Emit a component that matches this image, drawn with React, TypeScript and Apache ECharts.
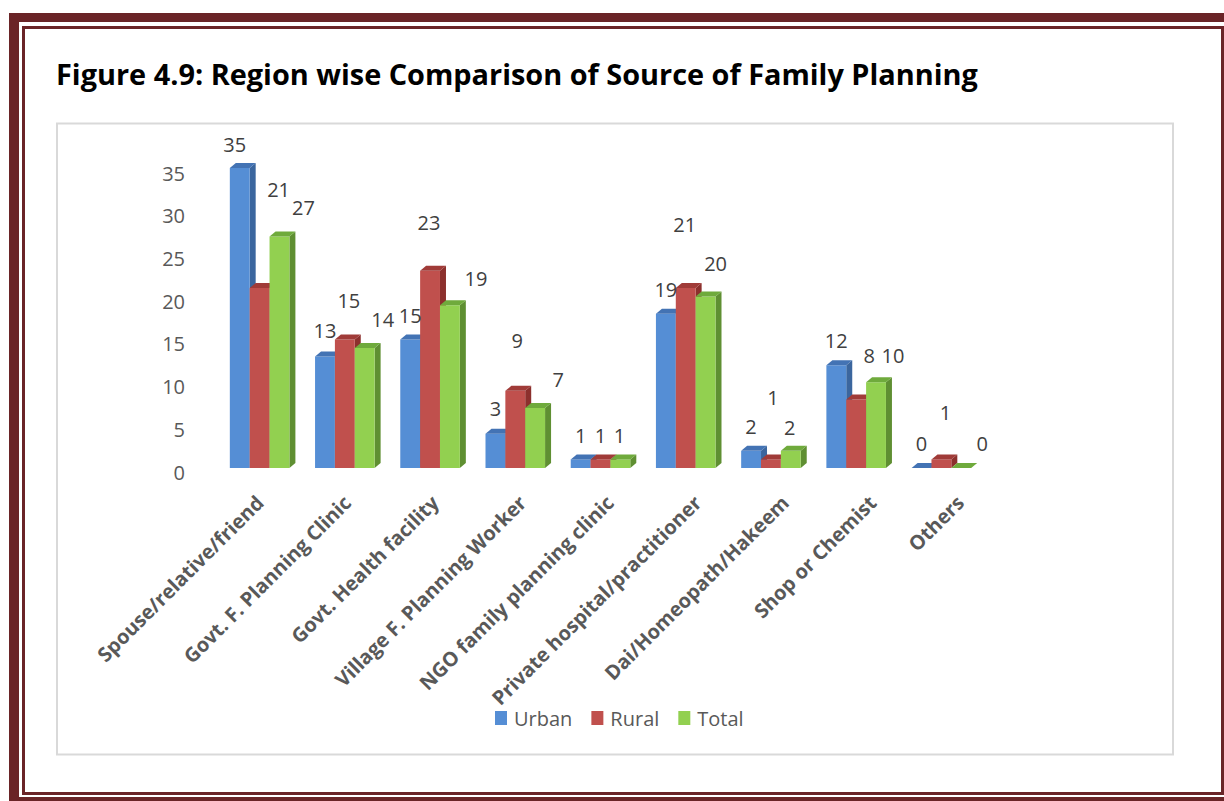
import React, { useEffect, useRef } from "react";
import * as echarts from "echarts";

const titleText = "Figure 4.9: Region wise Comparison of Source of Family Planning";
const categories = [
  "Spouse/relative/friend",
  "Govt. F. Planning Clinic",
  "Govt. Health facility",
  "Village F. Planning Worker",
  "NGO family planning clinic",
  "Private hospital/practitioner",
  "Dai/Homeopath/Hakeem",
  "Shop or Chemist",
  "Others",
];
const seriesNames = ["Urban", "Rural", "Total"];
const urbanValues = [35, 13, 15, 4, 1, 18, 2, 12, 0];
const ruralValues = [21, 15, 23, 9, 1, 21, 1, 8, 1];
const totalValues = [27, 14, 19, 7, 1, 20, 2, 10, 0];
// data labels as printed on the chart
const urbanLabels = ["35", "13", "15", "3", "1", "19", "2", "12", "0"];
const ruralLabels = ["21", "15", "23", "9", "1", "21", "1", "8", "1"];
const totalLabels = ["27", "14", "19", "7", "1", "20", "2", "10", "0"];
const yMin = 0;
const yMax = 35;
const yStep = 5;

// label placement (styling): [dx from bar centre, lift above bar top]
const urbanLabelShift = [[-5, 24], [0, 26], [0, 24], [0, 25], [0, 24], [0, 24], [0, 24], [0, 25], [0, 25]];
const ruralLabelShift = [[19, 99], [4, 39], [-1, 48], [2, 50], [0, 24], [-1, 64], [2, 62], [13, 44], [4, 47]];
const totalLabelShift = [[24, 29], [18, 29], [26, 27], [23, 29], [-1, 24], [10, 33], [-1, 23], [17, 27], [21, 25]];

const palettes = [
  { front: "#558ED5", side: "#3B669E", top: "#4373B4" },
  { front: "#C0504D", side: "#8C302D", top: "#A03B38" },
  { front: "#92D050", side: "#5F8F32", top: "#6FAA3C" },
];

const valueSets = [urbanValues, ruralValues, totalValues];
const labelSets = [urbanLabels, ruralLabels, totalLabels];
const shiftSets = [urbanLabelShift, ruralLabelShift, totalLabelShift];

const FONT = "'Open Sans', 'Noto Sans', sans-serif";

export default function App() {
  const ref = useRef<HTMLDivElement>(null);
  useEffect(() => {
    if (!ref.current) return;
    const chart = echarts.init(ref.current, undefined, { renderer: "svg" });

    let titleScale = 1;
    try {
      const c = document.createElement("canvas").getContext("2d");
      if (c) {
        c.font = "bold 29px 'Open Sans'";
        const w = c.measureText(titleText).width;
        if (w > 0) titleScale = 922 / w;
      }
    } catch (e) {}

    const makeRender = (si: number) => (params: any, api: any) => {
      const ci = api.value(0);
      const v = api.value(1);
      const band = api.size([1, 0])[0];
      const bw = band * 0.233;
      const base = api.coord([ci, 0]);
      const top = api.coord([ci, v]);
      const cx = base[0] + (si - 1) * bw;
      const x0 = cx - bw / 2;
      const x1 = cx + bw / 2;
      const dx = 6;
      const dy = -5;
      const yT = top[1];
      const yB = base[1];
      const p = palettes[si];
      const sh = shiftSets[si][params.dataIndex];
      return {
        type: "group",
        children: [
          {
            type: "polygon",
            shape: { points: [[x1, yT], [x1 + dx, yT + dy], [x1 + dx, yB + dy], [x1, yB]] },
            style: { fill: p.side },
          },
          {
            type: "rect",
            shape: { x: x0, y: yT, width: bw, height: yB - yT },
            style: { fill: p.front },
          },
          {
            type: "polygon",
            shape: { points: [[x0, yT], [x0 + dx, yT + dy], [x1 + dx, yT + dy], [x1, yT]] },
            style: { fill: p.top },
          },
          {
            type: "text",
            x: cx + sh[0],
            y: yT - sh[1],
            z2: 10,
            style: {
              text: labelSets[si][params.dataIndex],
              fill: "#404040",
              fontSize: 20,
              fontFamily: FONT,
              align: "center",
              verticalAlign: "middle",
            },
          },
        ],
      };
    };

    const series: any[] = seriesNames.map((name, si) => ({
      name,
      type: "custom",
      xAxisIndex: 0,
      yAxisIndex: 0,
      renderItem: makeRender(si),
      itemStyle: { color: palettes[si].front },
      encode: { x: 0, y: 1 },
      data: valueSets[si].map((v, i) => [i, v]),
      z: 2,
    }));

    const option: any = {
      animation: false,
      backgroundColor: "#ffffff",
      textStyle: { fontFamily: FONT },
      legend: {
        data: seriesNames,
        left: 490,
        top: 703,
        itemWidth: 12,
        itemHeight: 14,
        itemGap: 19,
        icon: "rect",
        textStyle: { fontSize: 20, color: "#595959", fontFamily: FONT, padding: [0, 0, 0, 2] },
      },
      grid: [
        { left: 217, right: 240, top: 168, bottom: 333, containLabel: false },
        { left: 216, right: 220, top: 173, bottom: 329, containLabel: false },
      ],
      xAxis: [
        {
          type: "category",
          gridIndex: 0,
          data: categories,
          axisLine: { show: false },
          axisTick: { show: false },
          axisLabel: { show: false },
          splitLine: { show: false },
        },
        {
          type: "category",
          gridIndex: 1,
          data: categories,
          axisLine: { show: false },
          axisTick: { show: false },
          splitLine: { show: false },
          axisLabel: {
            interval: 0,
            rotate: 45,
            margin: 27,
            fontSize: 20,
            fontWeight: 700,
            color: "#595959",
            fontFamily: FONT,
          },
        },
      ],
      yAxis: [
        {
          type: "value",
          gridIndex: 0,
          min: yMin,
          max: yMax,
          interval: yStep,
          axisLine: { show: false },
          axisTick: { show: false },
          axisLabel: { show: false },
          splitLine: { show: false },
        },
        {
          type: "value",
          gridIndex: 1,
          min: yMin,
          max: yMax,
          interval: yStep,
          axisLine: { show: false },
          axisTick: { show: false },
          splitLine: { show: false },
          axisLabel: { margin: 31, fontSize: 20, color: "#595959", fontFamily: FONT },
        },
      ],
      graphic: [
        // outer thick frame
        { type: "rect", shape: { x: 9, y: 13, width: 1215, height: 9 }, style: { fill: "#6A2427" }, silent: true },
        { type: "rect", shape: { x: 9, y: 13, width: 10, height: 788 }, style: { fill: "#6A2427" }, silent: true },
        { type: "rect", shape: { x: 9, y: 797, width: 1215, height: 4 }, style: { fill: "#6A2427" }, silent: true },
        // inner thin frame
        {
          type: "rect",
          shape: { x: 23.5, y: 27.5, width: 1199, height: 766 },
          style: { fill: "none", stroke: "#6A2427", lineWidth: 3 },
          silent: true,
        },
        // chart area box
        {
          type: "rect",
          shape: { x: 57, y: 123.5, width: 1116, height: 631 },
          style: { fill: "none", stroke: "#D9D9D9", lineWidth: 2 },
          silent: true,
        },
        {
          type: "text",
          x: 56,
          y: 73,
          scaleX: titleScale,
          style: {
            text: titleText,
            fill: "#000000",
            fontSize: 29,
            fontWeight: "bold",
            fontFamily: FONT,
            verticalAlign: "middle",
          },
          silent: true,
        },
      ],
      series,
    };

    chart.setOption(option);
    return () => chart.dispose();
  }, []);

  return (
    <div
      ref={ref}
      style={{ position: "absolute", left: 0, top: 0, width: 1224, height: 801, background: "#fff" }}
    />
  );
}
